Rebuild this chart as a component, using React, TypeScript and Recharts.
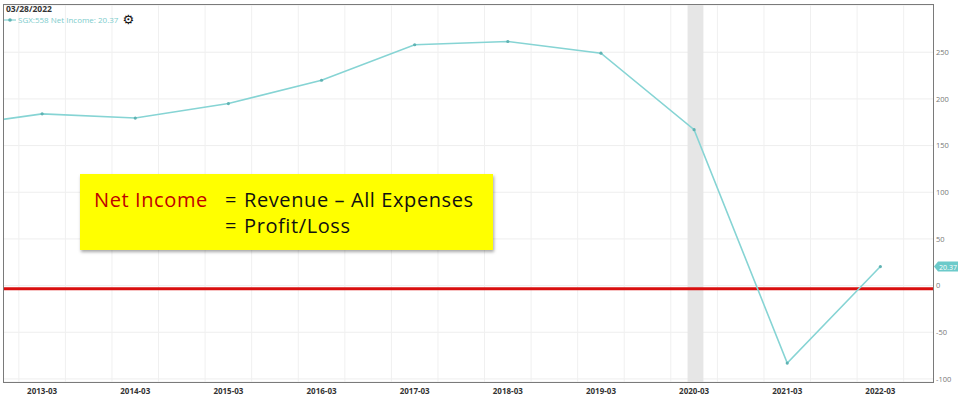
import React from 'react';
import { LineChart, Line, XAxis, YAxis, CartesianGrid, ReferenceLine, ReferenceArea } from 'recharts';

const periods = ['2012-03', '2013-03', '2014-03', '2015-03', '2016-03', '2017-03', '2018-03', '2019-03', '2020-03', '2021-03', '2022-03'];
const netIncome = [170, 184, 179.5, 195, 220, 258, 261.5, 249, 167, -83, 20.37];
const yTicks = [-100, -50, 0, 50, 100, 150, 200, 250];
const gridYears = [2013, 2014, 2015, 2016, 2017, 2018, 2019, 2020, 2021, 2022];
const recession = [2020.18, 2020.35];
const lastValue = 20.37;
const legendDate = '03/28/2022';
const seriesName = 'SGX:558 Net Income';

const toYear = (p: string) => {
  const [y, m] = p.split('-').map(Number);
  return y + m / 12;
};

const data = periods.map((p, i) => ({ x: toYear(p), label: p, value: netIncome[i] }));
const tickMap: Record<string, string> = {};
data.forEach((d) => (tickMap[d.x.toFixed(3)] = d.label));
const xTicks = data.slice(1).map((d) => d.x);
const halfYears = gridYears.flatMap((y) => [y, y + 0.5]);

const FONT = '"Open Sans", "DejaVu Sans", sans-serif';
const TEAL = '#86d4d4';

function ValueTag(props: any) {
  const { viewBox } = props;
  const x = viewBox.x + viewBox.width + 1;
  const y = viewBox.y;
  return (
    <g>
      <path d={`M${x} ${y} L${x + 4} ${y - 5} L${x + 24} ${y - 5} L${x + 24} ${y + 5} L${x + 4} ${y + 5} Z`} fill="#6ccaca" />
      <text x={x + 14} y={y + 3} textAnchor="middle" fontSize={7} fill="#fff" fontFamily={FONT}>
        {lastValue.toFixed(2)}
      </text>
    </g>
  );
}

export default function App() {
  return (
    <div style={{ position: 'absolute', left: 0, top: 0, width: 960, height: 400, background: '#fff', fontFamily: FONT }}>
      <LineChart width={960} height={400} data={data} margin={{ top: 5, right: 0, left: 3, bottom: 0 }}>
        <CartesianGrid vertical={false} stroke="#eeeeee" />
        {halfYears.map((v) => (
          <ReferenceLine key={v} x={v} stroke="#f0f0f0" ifOverflow="hidden" />
        ))}
        <ReferenceArea x1={recession[0]} x2={recession[1]} fill="#e6e6e6" fillOpacity={1} stroke="none" ifOverflow="hidden" />
        <XAxis
          dataKey="x"
          type="number"
          domain={[2012.83, 2022.815]}
          allowDataOverflow
          ticks={xTicks}
          tickFormatter={(v: number) => tickMap[v.toFixed(3)] ?? ''}
          height={18}
          axisLine={false}
          tickLine={false}
          tickSize={0}
          tickMargin={6}
          tick={{ fill: '#333', fontSize: 8, fontWeight: 700, fontFamily: FONT }}
        />
        <YAxis
          orientation="right"
          width={27}
          domain={[-103.3, 300.6]}
          allowDataOverflow
          ticks={yTicks}
          axisLine={false}
          tickLine={false}
          tickSize={0}
          tickMargin={3}
          tick={{ fill: '#777', fontSize: 7.5, fontFamily: FONT }}
        />
        <ReferenceLine y={-3.3} stroke="#d90f0f" strokeWidth={3} />
        <Line
          type="linear"
          dataKey="value"
          stroke={TEAL}
          strokeWidth={1.6}
          dot={{ r: 1.6, fill: '#5fb3b3', stroke: '#5fb3b3', strokeWidth: 0 }}
          activeDot={false}
          isAnimationActive={false}
        />
        <ReferenceLine y={lastValue} stroke="none" label={<ValueTag />} ifOverflow="visible" />
      </LineChart>

      {/* plot frame */}
      <div style={{ position: 'absolute', left: 3, top: 4, width: 929, height: 377, border: '1px solid #7a7a7a', pointerEvents: 'none' }} />

      {/* legend */}
      <div style={{ position: 'absolute', left: 6, top: 4, fontSize: 8.5, fontWeight: 700, color: '#333', lineHeight: '10px' }}>{legendDate}</div>
      <div style={{ position: 'absolute', left: 4, top: 14, fontSize: 8, color: '#7ccccc', lineHeight: '11px', display: 'flex', alignItems: 'center' }}>
        <svg width={12} height={6} style={{ marginRight: 2 }}>
          <line x1={0} y1={3} x2={12} y2={3} stroke={TEAL} strokeWidth={1.2} />
          <circle cx={6} cy={3} r={1.8} fill="#5fb3b3" />
        </svg>
        <span>{seriesName}: {lastValue.toFixed(2)}</span>
        <span style={{ color: '#111', fontSize: 13, marginLeft: 4, fontWeight: 700, fontFamily: '"DejaVu Sans"' }}>⚙</span>
      </div>

      {/* annotation box */}
      <div
        style={{
          position: 'absolute',
          left: 80,
          top: 174,
          width: 413,
          height: 76,
          background: '#ffff00',
          boxShadow: '1px 2px 3px rgba(0,0,0,0.35)',
          fontSize: 20,
          fontWeight: 500,
          letterSpacing: 0.6,
          color: '#111',
          lineHeight: '26px',
          fontFamily: FONT,
        }}
      >
        <div style={{ position: 'absolute', left: 14, top: 13, whiteSpace: 'nowrap', color: '#c00000' }}>Net Income</div>
        <div style={{ position: 'absolute', left: 145, top: 13, whiteSpace: 'nowrap' }}>=</div>
        <div style={{ position: 'absolute', left: 164, top: 13, whiteSpace: 'nowrap' }}>Revenue – All Expenses</div>
        <div style={{ position: 'absolute', left: 145, top: 39, whiteSpace: 'nowrap' }}>=</div>
        <div style={{ position: 'absolute', left: 164, top: 39, whiteSpace: 'nowrap' }}>Profit/Loss</div>
      </div>
    </div>
  );
}
